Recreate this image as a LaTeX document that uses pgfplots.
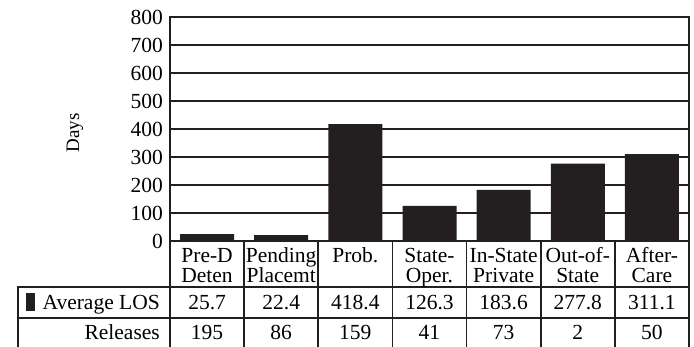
\documentclass[border=0pt]{standalone}
\usepackage{pgfplots}
\pgfplotsset{compat=1.18}
\usepackage{fontspec}
\setmainfont{Liberation Serif}
\definecolor{barc}{RGB}{35,31,32}
\begin{document}
\fontsize{21.5}{23}\selectfont
\begin{tikzpicture}[x=1pt,y=1pt]
\useasboundingbox (0,0) rectangle (694,347);
\begin{axis}[
  at={(170pt,105.7pt)}, anchor=south west,
  width=519pt, height=224pt, scale only axis,
  xmin=-0.5, xmax=6.5, ymin=0, ymax=800,
  xtick=\empty, ytick={0,100,...,800},
  ymajorgrids, grid style={barc, line width=1.8pt},
  axis line style={barc, line width=1.8pt},
  major tick length=0pt,
  /pgf/number format/assume math mode=true,
  yticklabel style={font=\fontsize{21.5}{23}\selectfont, inner sep=0pt, xshift=-7pt},
  ybar, bar width=54pt, bar shift=0pt,
  clip=false,
]
\addplot[fill=barc, draw=none] coordinates {(0,25.7) (1,22.4) (2,418.4) (3,126.3) (4,183.6) (5,277.8) (6,311.1)};
\end{axis}
\node[rotate=90, font=\fontsize{19}{21}\selectfont] at (75,214) {Days};
% table lines
\foreach \k in {0,...,7} {\draw[barc, line width=1.8pt] ({170+74.14*\k},105.7) -- ({170+74.14*\k},0);}
\draw[barc, line width=1.8pt] (17,60) -- (689,60);
\draw[barc, line width=1.8pt] (17,29) -- (689,29);
\draw[barc, line width=1.8pt] (18,60.9) -- (18,0);
% header
\foreach \a/\b [count=\i from 0] in {Pre-D/Deten, Pending/Placemt, Prob./, State-/Oper., In-State/Private, Out-of-/State, After-/Care} {
  \node[anchor=base, inner sep=0pt] at ({170+74.14*(\i+0.5)},84) {\a};
  \node[anchor=base, inner sep=0pt] at ({170+74.14*(\i+0.5)},64) {\b};
}
\foreach \v [count=\i from 0] in {25.7,22.4,418.4,126.3,183.6,277.8,311.1} {
  \node[anchor=base, inner sep=0pt] at ({170+74.14*(\i+0.5)},37) {\v};
}
\foreach \v [count=\i from 0] in {195,86,159,41,73,2,50} {
  \node[anchor=base, inner sep=0pt] at ({170+74.14*(\i+0.5)},7) {\v};
}
\fill[barc] (26,36) rectangle (35,54);
\node[anchor=base east, inner sep=0pt] at (160,37) {Average LOS};
\node[anchor=base east, inner sep=0pt] at (160,7) {Releases};
\end{tikzpicture}
\end{document}
